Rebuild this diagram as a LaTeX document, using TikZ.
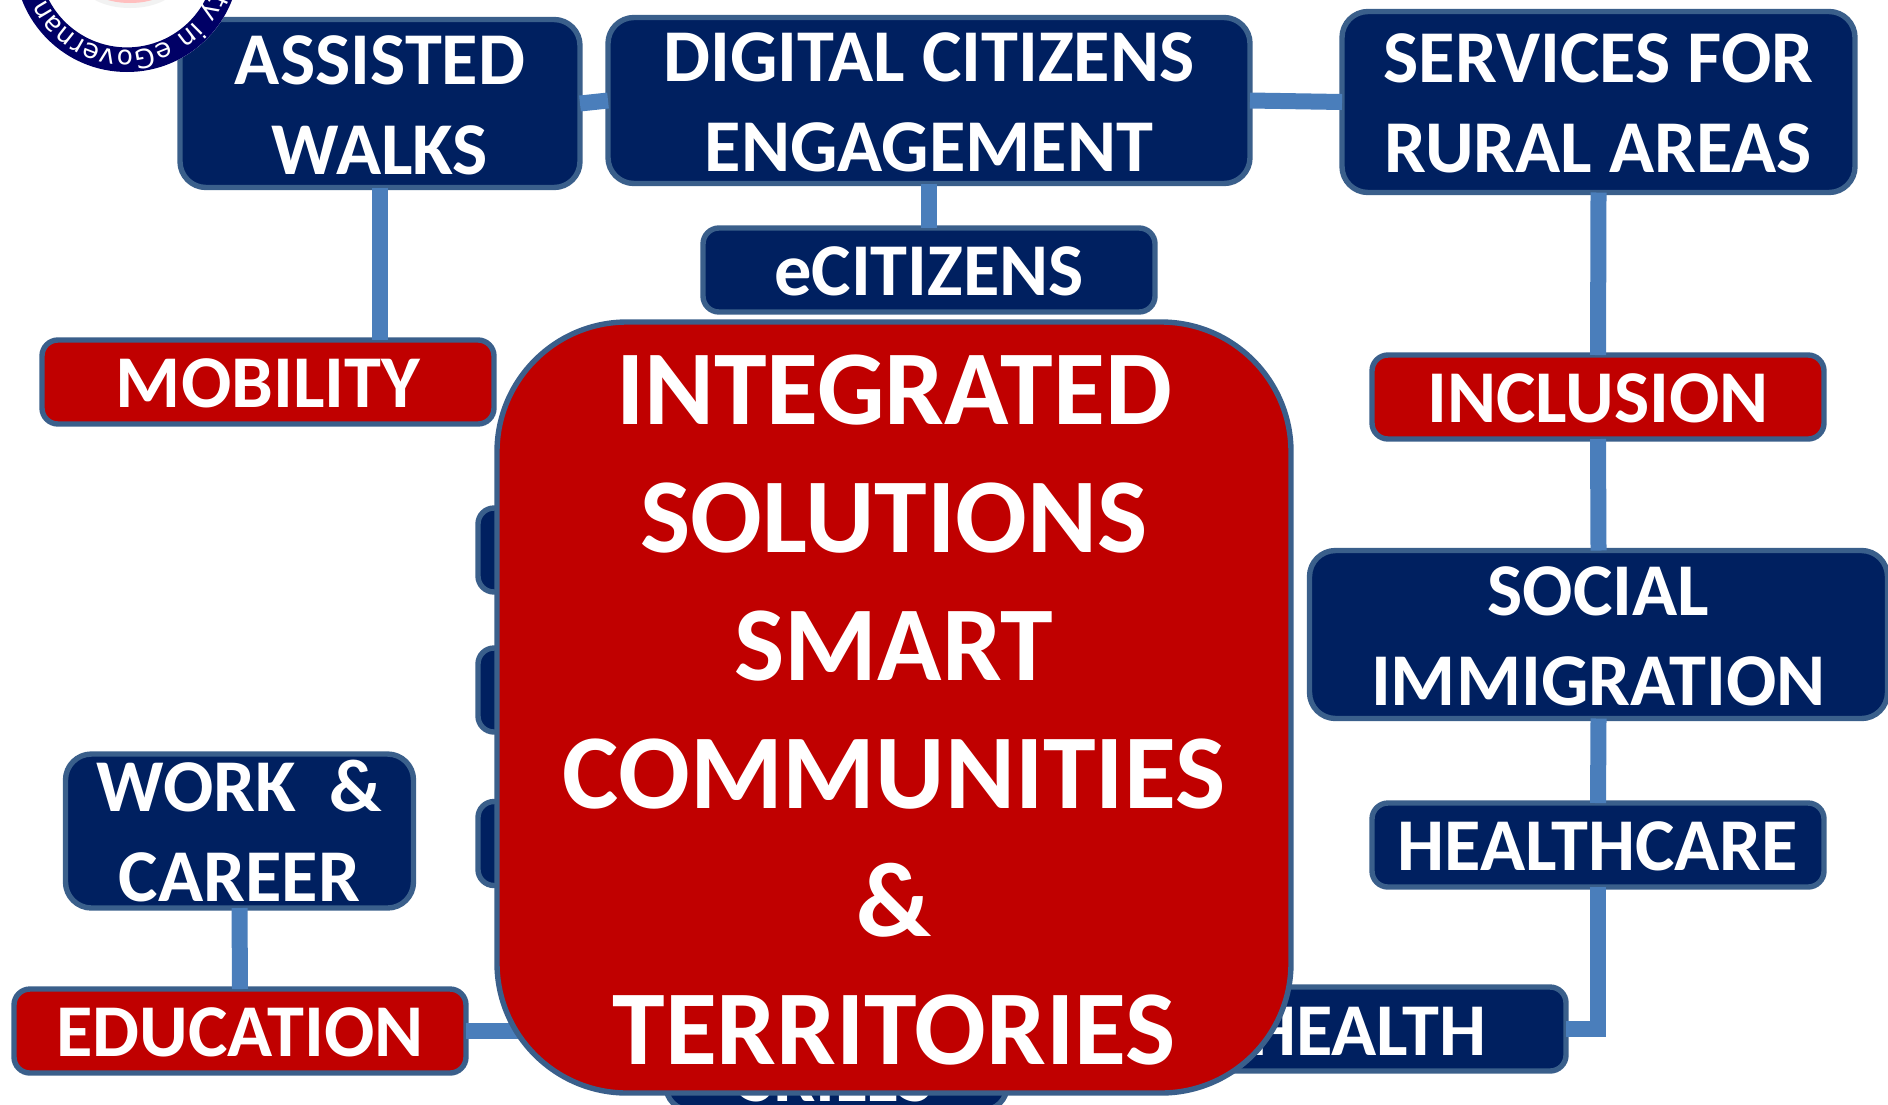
\documentclass[tikz,border=0pt]{standalone}
\usepackage{fontspec}
\setmainfont{Carlito}
\newfontfamily\logofont{DejaVu Sans}
\usetikzlibrary{decorations.text}
\definecolor{navybox}{HTML}{002060}
\definecolor{redbox}{HTML}{C00000}
\definecolor{edgeblue}{HTML}{3A5F8B}
\definecolor{linkblue}{HTML}{4A7EBB}
\definecolor{ringblue}{HTML}{000066}
\newcommand\capA{\rule{0pt}{26.2pt}}
\newcommand\capB{\rule{0pt}{37pt}}
\tikzset{
  base/.style={draw=edgeblue,line width=2.7pt,inner sep=0pt,outer sep=0pt,text=white,align=center,
    font=\bfseries\fontsize{37.25}{45}\selectfont},
  navy/.style={base,fill=navybox},
  redb/.style={base,fill=redbox},
  small/.style={minimum width=226pt,minimum height=42pt,rounded corners=8pt},
  large/.style={rounded corners=13pt},
  link/.style={draw=linkblue,line width=8pt}
}
\begin{document}
\begin{tikzpicture}[x=0.5pt,y=0.5pt]
\useasboundingbox (0,0) rectangle (1888,-1104);
\clip (0,0) rectangle (1888,-1104);
% side tabs and lower box, largely hidden by the central panel
\node[navy,small,minimum width=110pt] (taba) at (588,-550) {};
\node[navy,small,minimum width=110pt] (tabb) at (588,-690) {};
\node[navy,small,minimum width=110pt] (tabc) at (588,-843.5) {};
\node[navy,rounded corners=12pt,minimum width=170.5pt,minimum height=34pt] (skills) at (836.5,-1076) {\capA SKILLS};
% boxes
\node[navy,large,minimum width=200pt,minimum height=84pt] (assisted) at (380,-103.5) {\capA ASSISTED\\WALKS};
\node[navy,large,minimum width=321pt,minimum height=83pt] (digital) at (929,-100.5) {\capA DIGITAL CITIZENS\\ENGAGEMENT};
\node[navy,large,minimum width=256.5pt,minimum height=90.5pt] (services) at (1598.5,-102) {\capA SERVICES FOR\\RURAL AREAS};
\node[navy,small] (ecit) at (929,-270) {\capA eCITIZENS};
\node[redb,small] (mobility) at (268,-382) {\capA MOBILITY};
\node[redb,small] (inclusion) at (1598,-397) {\capA INCLUSION};
\node[navy,large,minimum width=289pt,minimum height=84pt] (social) at (1598.5,-634.5) {\capA SOCIAL\\IMMIGRATION};
\node[navy,small] (healthcare) at (1598,-845) {\capA HEALTHCARE};
\node[navy,small,minimum width=198pt] (health) at (1368,-1029) {\capA HEALTH};
\node[navy,large,minimum width=174pt,minimum height=77pt] (work) at (239.5,-831) {\capA WORK\ \ \&\\CAREER};
\node[redb,small] (education) at (240,-1031) {\capA EDUCATION};
% connectors
\draw[link] (assisted.east) -- (digital.west);
\draw[link] (digital.east) -- (services.west);
\draw[link] (digital.south) -- (ecit.north);
\draw[link] (assisted.south) -- (assisted.south |- mobility.north);
\draw[link] (services.south) -- (inclusion.north);
\draw[link] (inclusion.south) -- (social.north);
\draw[link] (social.south) -- (healthcare.north);
\draw[link] (healthcare.south) |- (health.east);
\draw[link] (work.south) -- (education.north);
\draw[link] (education.east) -- (education.east -| skills.north);
% central panel
\node[redb,rounded corners=65pt,minimum width=397pt,minimum height=385.5pt,
  font=\bfseries\fontsize{53.1}{64}\selectfont] (center) at (894,-707.5)
  {\capB INTEGRATED\\SOLUTIONS\\SMART\\COMMUNITIES\\\&\\TERRITORIES};
% logo
\coordinate (logoc) at (127,40.6);
\fill[white] (logoc) circle[radius=112.6];
\fill[ringblue,even odd rule] (logoc) circle[radius=112.6] (logoc) circle[radius=88];
\fill[gray!10] (130,20) ellipse[x radius=50,y radius=28];
\fill[red!25!white] (130,20) ellipse[x radius=45,y radius=23];
\path[decorate,decoration={text along path,text align={left},
  text={|\logofont\fontsize{13.2}{15}\selectfont\color{white}|ty in eGovernan}}]
  (logoc) ++(-21:91) arc (-21:-215:91);
\end{tikzpicture}
\end{document}
